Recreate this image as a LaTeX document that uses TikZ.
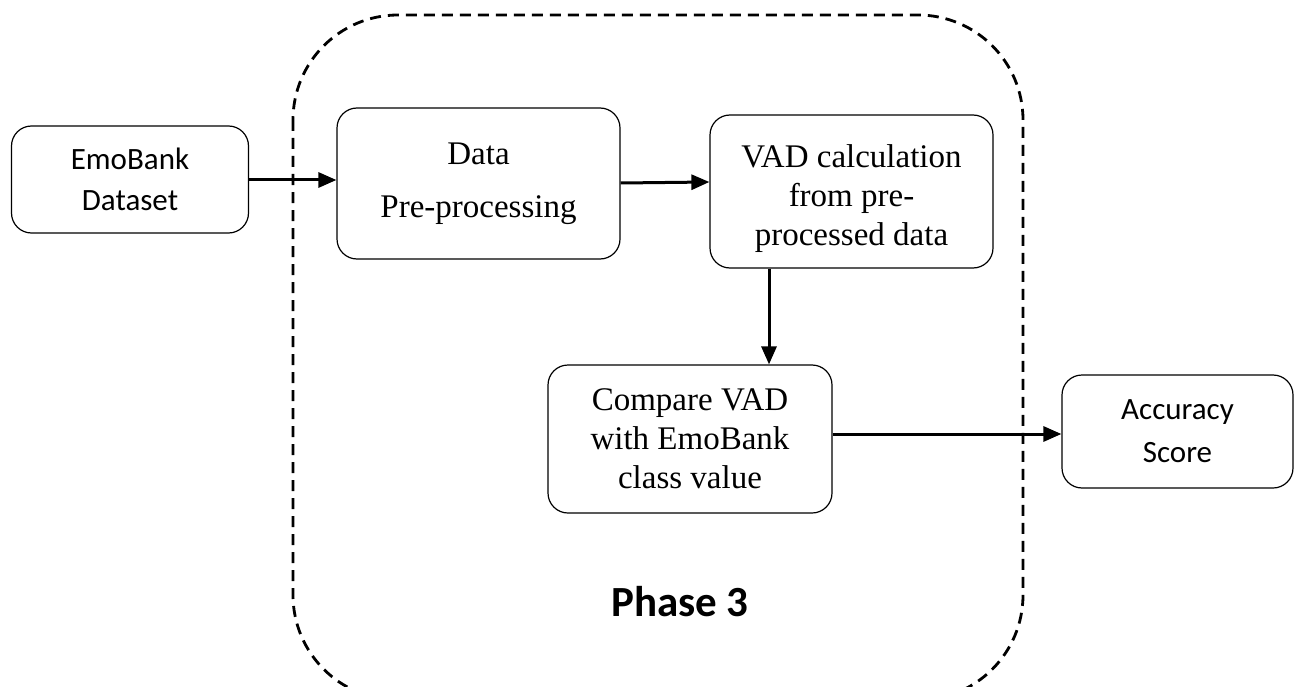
\documentclass[tikz,border=0pt]{standalone}
\usepackage{fontspec}
\setmainfont{Liberation Serif}
\newfontfamily\carlito{Carlito}
\usetikzlibrary{arrows.meta}
\begin{document}
\begin{tikzpicture}[x=1pt,y=-1pt,
  box/.style={draw=black, line width=1.2pt, rounded corners=20pt, inner sep=0pt},
  serifbox/.style={box, font=\fontsize{33}{39}\selectfont, align=center},
  sansbox/.style={box, font=\carlito\fontsize{31}{41}\selectfont, align=center},
  conn/.style={line width=3pt, -{Triangle[length=18pt,width=15pt]}},
  phase/.style={line width=2.8pt, dash pattern=on 11pt off 7pt}
]
\useasboundingbox (0,0) rectangle (1305,687);
% dashed phase region
\draw[phase, rounded corners=105pt] (293,15) rectangle (1023,700);
\node[font=\carlito\bfseries\fontsize{43}{50}\selectfont] (ph) at (680,602) {Phase 3};
% boxes
\node[sansbox, minimum width=237pt, minimum height=107pt] (emo) at (130,179.5) {EmoBank\\Dataset};
\node[serifbox, minimum width=283pt, minimum height=151pt] (pre) at (478.5,183.5) {Data\\[14pt]Pre-processing};
\node[box, minimum width=283pt, minimum height=153pt] (vad) at (851.5,191.5) {};
\node[font=\fontsize{33}{39}\selectfont, align=center, inner sep=0pt] (vadt) at (851.5,199) {VAD calculation\\from pre-\\processed data};
\node[serifbox, minimum width=284pt, minimum height=148pt] (cmp) at (690,439) {Compare VAD\\with EmoBank\\class value};
\node[sansbox, minimum width=231pt, minimum height=113pt, font=\carlito\fontsize{31}{43}\selectfont] (acc) at (1177.5,431.5) {Accuracy\\Score};
% connectors
\draw[conn] (emo.east |- 0,180) -- (pre.west |- 0,180);
\draw[conn] (pre.east |- 0,183) -- (vad.west |- 0,182);
\draw[conn] (vad.south -| 769,0) -- (cmp.north -| 769,0);
\draw[conn] (cmp.east |- 0,434) -- (acc.west |- 0,434);
\end{tikzpicture}
\end{document}
